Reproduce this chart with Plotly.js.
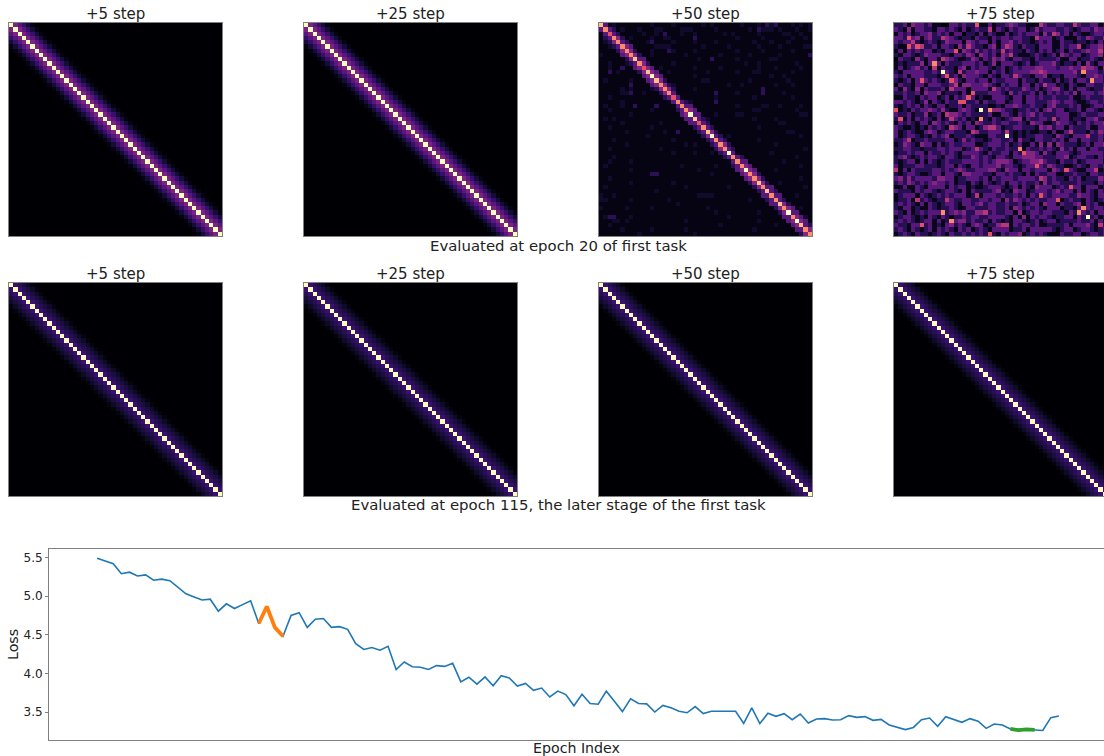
<!DOCTYPE html>
<html><head><meta charset="utf-8"><script src="https://cdn.plot.ly/plotly-3.0.1.min.js"></script>
<style>html,body{margin:0;padding:0;background:#fff;overflow:hidden}</style></head>
<body><div id="chart" style="width:1104px;height:756px"></div>
<script>
// ---- loss curve
const lossAll = [5.49,5.46,5.42,5.29,5.31,5.26,5.275,5.205,5.22,5.20,5.12,5.03,4.99,4.95,4.96,4.805,4.90,4.84,4.89,4.94,
4.645,4.865,4.595,4.48,4.75,4.785,4.595,4.70,4.71,4.595,4.605,4.57,4.385,4.31,4.335,4.30,4.35,4.05,4.147,4.085,
4.08,4.05,4.10,4.09,4.13,3.89,3.95,3.86,3.955,3.84,3.97,3.94,3.835,3.87,3.78,3.81,3.695,3.77,3.725,3.58,
3.73,3.61,3.60,3.77,3.64,3.505,3.67,3.61,3.605,3.50,3.585,3.555,3.51,3.49,3.57,3.48,3.51,3.51,3.505,3.51,
3.353,3.552,3.35,3.483,3.444,3.478,3.40,3.474,3.358,3.41,3.414,3.397,3.40,3.453,3.431,3.44,3.392,3.405,3.332,3.306,
3.272,3.30,3.40,3.422,3.315,3.44,3.40,3.366,3.414,3.38,3.288,3.345,3.332,3.28,3.263,3.272,3.267,3.26,3.427,3.448];
const earlyEpochs = [20,21,22,23];
const earlyLoss = [4.645,4.865,4.595,4.48];
const lateEpochs = [113,114,115,116];
const lateLoss = [3.28,3.265,3.275,3.268];
const stepNames = ['+5 step','+25 step','+50 step','+75 step'];
const captions = ['Evaluated at epoch 20 of first task','Evaluated at epoch 115, the later stage of the first task'];

// ---- band strength by distance from the diagonal, clean panels
const bandEarly5 = [1,.36,.27,.19,.1,.03];
const bandEarly25 = [1,.36,.27,.19,.1,.03];
const bandLate5 = [1,.2,.15,.115,.07,.02];
const bandLate25 = [1,.2,.15,.115,.07,.02];
const bandLate50 = [1,.2,.15,.115,.07,.02];
const bandLate75 = [1,.2,.15,.115,.07,.02];

// ---- digit levels of the hand-read panels
const digitLevels = [0,.04,.15,.27,.38,.5,.62,.76,.87,1];
const noiseLevels = [.03,.08,.16];

// ---- epoch 20, +50 step: diagonal, first and second neighbours, background
const diag50 = '87677777 87689 87776 77798 67897 77977 79778 78778 79798 77'.replace(/ /g,'');
const near50a = '33343 44434 44444 43333 43333 43343 33344 44433 33443 44344'.replace(/ /g,'');
const near50b = '12222 32232 33322 21123 33222 22222 12333 22232 32233 33222'.replace(/ /g,'');
const noise50 = [
'00010 00000 00100 00100 00001 01000 00010 00102 12000 10101',
'00000 10001 00011 00001 11000 00100 00000 10211 10100 01001',
'00100 00000 10010 20001 00100 00001 01000 00100 00011 00100',
'00000 10100 00100 11000 00200 00000 00100 00010 00000 10010',
'01000 00000 01200 00100 00100 00100 00000 01000 10001 00000',
'00100 00100 00011 11000 00001 00000 10000 00100 00100 00011',
'00000 00000 00100 02100 00100 00000 00100 00010 00000 10000',
'10000 10000 00100 00000 10000 00010 00000 10000 00100 00002',
'00000 00000 00000 00000 00010 02000 00100 00000 11000 00000',
'00100 01000 10000 00100 00000 00000 00001 00100 00000 01000',
'00100 20000 00001 00000 00100 00010 00000 00100 01000 00100',
'00201 00000 00000 01000 00000 10000 00100 01100 00000 10000',
'00000 00000 00000 00000 00100 00000 00000 00000 10010 00000',
'01000 00100 00100 00000 00001 10000 00000 10000 00001 00000',
'00000 00200 00000 01100 00000 00000 10010 00000 01000 10000',
'00000 10100 00100 00000 00100 00000 00000 00020 00000 00000',
'00000 11200 10000 00000 00000 00200 00100 00020 00010 00000',
'00100 00000 00000 00001 00000 00100 00000 01000 00000 10000',
'00000 10000 00000 00100 01000 00200 00000 00000 00000 00000',
'01000 10020 00020 00000 00000 00000 00100 00011 00100 00100',
'00100 00000 00100 00000 00100 00000 00000 01100 00000 01000',
'00000 00100 00000 00000 00000 00100 00110 00000 00000 00110',
'01010 00000 00000 00000 00000 10000 00000 01000 01000 00000',
'00000 10000 00001 00000 00000 00000 00000 00000 00110 00000',
'00100 00000 00100 00000 00000 10000 00000 00100 00000 00000',
'00000 01000 00000 10020 00000 00000 00000 00000 00001 10000',
'00000 00000 01000 00000 00000 00000 10000 00000 00000 00100',
'00010 00000 00000 00100 00000 00000 00000 00100 00000 00000',
'00000 01000 00000 00000 10100 00000 00000 00000 01000 00000',
'00100 00000 00001 00000 00000 00000 00000 00000 00000 00010',
'00000 00000 00000 00100 00100 01000 00000 00000 10000 00000',
'00010 00000 00000 00000 00000 00000 00100 00000 00000 01000',
'00100 00100 00000 00000 00000 00000 00000 00000 00010 00000',
'01000 00000 00000 00001 00000 00100 00000 00000 00000 00100',
'00000 00100 00000 00000 00010 00000 00100 00000 01000 00000',
'00000 00000 00220 00000 00000 01000 00000 00000 00000 00000',
'00100 00000 00000 00000 00000 00000 00000 00000 00000 00100',
'00000 00100 00000 00100 00000 00000 00000 00000 00100 00000',
'01000 00000 00000 00000 10000 00000 10000 00000 00000 00010',
'00000 00000 00010 00000 00000 00000 00000 00000 00000 00000',
'10010 00000 00000 00000 00011 11000 00000 00000 00000 01000',
'11000 00100 00000 01000 00000 00000 00000 10000 00000 00000',
'00000 00000 00000 00010 00000 00000 00000 00000 00000 00000',
'10000 01000 00100 00000 00000 10000 00000 00000 00000 00100',
'00000 00000 00000 00000 00000 00100 00000 00100 00000 00000',
'01220 00100 00000 00000 00000 00000 10000 00000 00000 00010',
'00011 01000 00000 00000 10000 00000 00000 00100 00000 00000',
'00100 00000 00000 00000 00000 00010 00000 00000 01000 00000',
'00000 10000 00100 00000 10000 00000 00000 01000 00000 00000',
'00000 00001 00000 00000 00100 00000 00000 00000 00000 00000'];

// ---- epoch 20, +75 step: every cell, read as a level 0-9
const cells75 = [
'2231433231 1003323226 1131223432 2111532233 2253223312',
'3214133221 3323213123 2251321323 3124233322 3212332433',
'1323123342 3231330221 3132113123 2333142542 3132112332',
'3326341342 2543212213 2213233233 2215333123 1113243224',
'3233521232 1243331432 3313133423 2212323113 2212212131',
'2116365223 1332142532 2134135421 3221333113 2335123342',
'1313232331 2133614324 2323252322 1321323123 1322343352',
'2133212433 3221332431 4323143521 1123212314 3233123341',
'0322142133 1543211243 1324342133 2213222231 1331223212',
'1212224137 3132223332 3124133321 2312333421 2213142133',
'1312342315 1322134132 3321231232 3334433323 3433544314',
'2133333223 2932152334 3313231233 3344543333 3342733323',
'3231333222 1362314333 2132133253 2213341221 3332133432',
'2123136323 2126421332 3313223331 3221322131 2313327332',
'1322133133 3223514433 3432132331 3313253312 1321133223',
'3142141322 2315333133 3315323222 4323123442 1313321224',
'2232231433 4122213162 2233321423 2231313232 3241333234',
'1132213233 1231323631 2113332133 1332322322 2311232223',
'3323212413 2132266223 1322331233 1332223432 3321123323',
'2123231321 3312231322 2211213343 2232213422 2323112332',
'6121323343 2421134321 9274432212 2323134233 1223133212',
'3223122412 3154432322 2231133213 2342322233 3112322233',
'2613132321 3125323121 7213212344 1322332523 3122133421',
'1323213314 3232132314 3223233223 2143311243 3213232334',
'3211212132 3215431331 2455312233 2221434233 1322231133',
'3123211343 1233222154 2233325212 1211221311 3522213243',
'3123321213 2341222321 1133229212 1223322143 2133352232',
'2235122322 2233124232 2123322314 2213322323 1331332231',
'1243214331 3123223331 1233323123 1131414143 2221231334',
'2233221222 3323331235 3213223227 1322323214 2313313322',
'1223233132 2323213333 2132233132 6443142133 3212333332',
'2342123233 2133212243 2321332133 4443322233 4123322132',
'2123313132 1232223333 2323444312 3344532213 2231233331',
'3122233222 1233132133 2333423321 2336324322 1123213323',
'5131322223 3232343223 3344214331 3323331432 6321133512',
'2123321123 3133214433 3221332322 1313223311 2232213322',
'3424233332 4433122333 2313233323 3332542322 1323122243',
'2324323234 3323122132 1321231332 3223142332 2223222132',
'1131132133 3313233121 1233321231 3214333123 2633133312',
'3222132332 1233213132 2223412143 3123332342 3313132132',
'1233313212 3232333125 1333232232 3132632333 3224332133',
'1223152321 2253223322 3323314243 2323223361 2322132123',
'2323213132 1233213323 4233223223 1233143313 2234132311',
'2133121132 1223211332 2233223143 2323213331 2213732332',
'3213123233 3723434224 4523223314 1233233222 1327323133',
'1233212132 1321223233 2233332131 4132332122 3313292312',
'2323212331 3127344232 2313212133 2123123312 2223223131',
'3221336231 2134232134 3122455132 3323112222 3133342152',
'2321321231 3232132312 3213333122 3133333212 3312332123',
'1232132212 3213223232 3262132334 1232321113 2233123323'];

// ---- builders: the matrices come only from the arrays above
const gridSize = 50;
function digitAt(s, k){ return digitLevels[+s.charAt(k)]; }
function fromBand(band){
  const z = [];
  for (let r = 0; r < gridSize; r++){
    const row = [];
    for (let c = 0; c < gridSize; c++){
      const d = Math.abs(r - c);
      row.push(d < band.length ? band[d] : 0);
    }
    z.push(row);
  }
  return z;
}
function fromRows(rows, levels){ return rows.map(s => { s = s.replace(/ /g,''); return Array.from(s, ch => levels[+ch]); }); }
function panel50(){
  const z = fromRows(noise50, noiseLevels);
  for (let i = 0; i < gridSize; i++){
    z[i][i] = digitAt(diag50, i);
    for (const [d, s] of [[1, near50a],[2, near50b]]){
      if (i + d < gridSize){
        const v = digitAt(s, i);
        z[i][i+d] = v; z[i+d][i] = v;
      }
    }
  }
  return z;
}
const panels = [fromBand(bandEarly5), fromBand(bandEarly25), panel50(), fromRows(cells75, digitLevels),
                fromBand(bandLate5), fromBand(bandLate25), fromBand(bandLate50), fromBand(bandLate75)];

// ---- styling
const W = 1104, H = 756;
const magma = [[0,'#000004'],[.1,'#140e36'],[.2,'#3b0f70'],[.3,'#641a80'],[.4,'#8c2981'],[.5,'#b73779'],[.6,'#de4968'],[.7,'#f7705c'],[.8,'#fe9f6d'],[.9,'#fecf92'],[1,'#fcfdbf']];
const panelLeft = [9,304,599,894], panelSize = 213, panelTop = [23,283];
const spine = '#808080', font = 'DejaVu Sans, sans-serif', ink = '#222';
const traces = [], layout = {
  width: W, height: H, margin: {l:0,r:0,t:0,b:0}, paper_bgcolor:'#fff', plot_bgcolor:'#fff',
  showlegend:false, font:{family:font,color:ink}, annotations:[]
};
panels.forEach((z,i) => {
  const col = i % 4, row = Math.floor(i/4), n = i+1;
  const left = panelLeft[col], right = Math.min(left+panelSize, W), top = panelTop[row];
  traces.push({type:'heatmap', z, xaxis:'x'+n, yaxis:'y'+n, colorscale:magma, zmin:0, zmax:1, showscale:false, hoverinfo:'skip'});
  const cell = panelSize/gridSize;
  layout['xaxis'+n] = {domain:[left/W, right/W], range:[-.5, -.5+(right-left)/cell], anchor:'y'+n, showticklabels:false, ticks:'', showgrid:false, zeroline:false, showline:true, linecolor:spine, linewidth:1, mirror:true};
  layout['yaxis'+n] = {domain:[1-(top+panelSize)/H, 1-top/H], range:[gridSize-.5,-.5], anchor:'x'+n, showticklabels:false, ticks:'', showgrid:false, zeroline:false, showline:true, linecolor:spine, linewidth:1, mirror: col<3};
  layout.annotations.push({text:stepNames[col], xref:'paper', yref:'paper', x:(left+panelSize/2)/W, y:1-(top-9.5)/H, xanchor:'center', yanchor:'middle', showarrow:false, font:{size:15,family:font,color:ink}});
});
captions.forEach((t,i) => layout.annotations.push({text:t, xref:'paper', yref:'paper', x:558/W, y:1-[245.5,505.5][i]/H, xanchor:'center', yanchor:'middle', showarrow:false, font:{size:14.9,family:font,color:ink}}));

const lossX = lossAll.map((_,i)=>i);
traces.push({type:'scatter', mode:'lines', x:lossX, y:lossAll, xaxis:'x9', yaxis:'y9', line:{color:'#1f77b4',width:1.6}, hoverinfo:'skip'});
traces.push({type:'scatter', mode:'lines', x:earlyEpochs, y:earlyLoss, xaxis:'x9', yaxis:'y9', line:{color:'#ff7f0e',width:3.8}, hoverinfo:'skip'});
traces.push({type:'scatter', mode:'lines', x:lateEpochs, y:lateLoss, xaxis:'x9', yaxis:'y9', line:{color:'#2ca02c',width:3.8}, hoverinfo:'skip'});
layout.xaxis9 = {domain:[49/W,1], range:[-5.95,124.58], anchor:'y9', showticklabels:false, ticks:'', showgrid:false, zeroline:false, showline:true, linecolor:spine, linewidth:1, mirror:true,
  title:{text:'Epoch Index', font:{size:14.2,family:font,color:ink}, standoff:4}};
layout.yaxis9 = {domain:[1-739.5/H,1-549.3/H], range:[3.144,5.606], anchor:'x9', tickvals:[3.5,4,4.5,5,5.5], ticktext:['3.5','4.0','4.5','5.0','5.5'], ticks:'outside', ticklen:3, tickcolor:spine, tickfont:{size:12,family:font,color:ink}, showgrid:false, zeroline:false, showline:true, linecolor:spine, linewidth:1,
  title:{text:'Loss', font:{size:14.2,family:font,color:ink}, standoff:1}};
Plotly.newPlot('chart', traces, layout, {staticPlot:true, displayModeBar:false});
</script></body></html>
